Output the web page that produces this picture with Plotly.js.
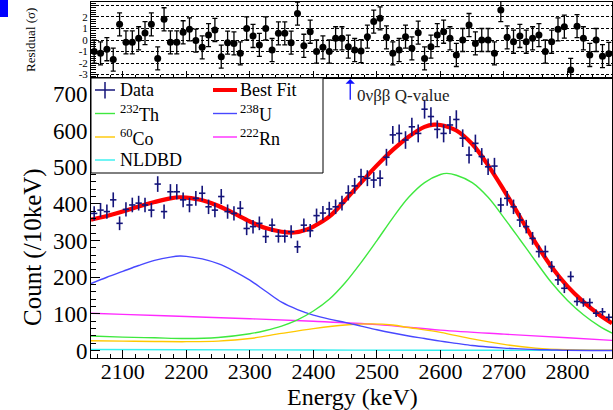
<!DOCTYPE html>
<html>
<head>
<meta charset="utf-8">
<script src="https://cdn.plot.ly/plotly-3.0.1.min.js"></script>
<style>html,body{margin:0;padding:0;background:#fff;}#chart{width:613px;height:410px;}</style>
</head>
<body>
<div id="chart"></div>
<script>
// ---- Data ----
const binCenters = [2055,2065,2075,2085,2095,2105,2115,2125,2135,2145,2155,2165,2175,2185,2195,2205,2215,2225,2235,2245,
  2255,2265,2275,2285,2295,2305,2315,2325,2335,2345,2355,2365,2375,2385,2395,2405,2415,2425,2435,2445,
  2455,2465,2475,2485,2495,2505,2515,2525,2535,2545,2555,2565,2575,2585,2595,2605,2615,2625,2635,2645,
  2655,2665,2675,2685,2695,2705,2715,2725,2735,2745,2755,2765,2775,2785,2795,2805,2815,2825,2835,2845,
  2855,2865];
const counts = [374,383,379,411,347,385,397,402,397,383,454,379,433,433,411,397,415,429,392,383,
  420,379,374,388,333,338,347,311,342,312,312,324,283,342,327,368,375,386,392,402,
  430,449,474,470,465,470,527,588,592,574,610,592,658,638,603,592,615,630,579,533,
  565,529,501,503,397,415,392,356,338,306,270,270,229,193,170,202,134,131,131,102,
  106,91];
const residuals = [-1.0,-1.16,-0.8,-1.7,1.36,-0.2,-0.2,0.15,0.6,1.36,-1.6,1.8,-0.2,-0.2,0.67,0.93,-0.05,-0.64,0.43,0.87,
  -1.45,-0.23,-0.3,-1.16,1.0,0.35,-0.43,1.0,-0.87,0.58,0.58,-0.23,2.3,-0.5,0.72,-1.0,-0.64,-1.0,0.15,0.15,
  -0.58,-0.87,-0.96,0.29,1.6,1.88,0.23,-1.16,-0.87,0.29,-0.72,0.64,-1.6,-0.58,0.43,0.72,0.15,-1.3,0,1.3,
  -0.3,0,0,-1.16,2.6,0.23,-0.15,0.35,-0.15,0.15,0.43,-1.0,-0.15,0.93,1.16,-2.6,1.2,0.15,-1.3,0,
  -1.4,-1.2];

const fitE   = [2050,2075,2100,2125,2150,2175,2190,2200,2225,2250,2275,2300,2325,2350,2370,2390,2400,2425,2450,2475,2500,2525,2550,2575,2590,2600,2625,2650,2675,2700,2725,2750,2775,2800,2825,2850,2870];
const fitVal = [357,367,379,393,405,415,418,417,410,395,374,352,334,324,322,330,338,365,410,458,505,547,583,610,616,615,600,563,505,437,365,293,228,175,133,98,75];

const thE   = [2050,2100,2150,2200,2250,2300,2325,2350,2375,2400,2425,2450,2475,2500,2525,2550,2575,2600,2610,2625,2650,2675,2700,2725,2750,2775,2800,2825,2850,2870];
const thVal = [40,37,35,33,36,46,55,67,84,108,140,185,240,300,362,418,458,480,483,478,458,418,362,303,243,185,137,98,67,48];

const uE   = [2050,2075,2100,2125,2150,2175,2190,2200,2225,2250,2275,2300,2325,2350,2375,2400,2425,2450,2475,2500,2525,2550,2575,2600,2625,2650,2675,2700,2725,2750,2775,2800,2870];
const uVal = [183,200,216,232,246,255,258,257,250,237,217,192,162,132,112,97,86,77,67,57,48,40,33,26,20,14,10,7,5,3,2,1,0.5];

const coE   = [2050,2100,2150,2200,2250,2300,2350,2400,2450,2490,2525,2550,2600,2650,2700,2750,2800,2870];
const coVal = [27,26,25,24.5,26,33,47,60,70,73,70,63,50,32,17,7,2.5,1];

const rnE   = [2050,2100,2200,2300,2400,2500,2600,2700,2800,2870];
const rnVal = [102,99,93,87,80,71,56,45,35,28];

const nlE   = [2050,2200,2400,2600,2870];
const nlVal = [3,2.5,1.8,1.2,0.8];

const qValue = 2458;
const xTicks = [2100,2200,2300,2400,2500,2600,2700,2800];
const resTicks = [-3,-2,-1,0,1,2,3];
const resTickText = ['-3','-2','-1','0','1','2','3'];

// ---- Plot ----
const FONT = 'Liberation Serif, Times New Roman, serif';
const C = {th:'#3fe83f', u:'#4848ff', co:'#ffc800', rn:'#ff2aff', nl:'#33f0f0', fit:'#ff0000', data:'#14147a'};

function comp(x, y, color, name){
  return {x:x, y:y, type:'scatter', mode:'lines', name:name, showlegend:false,
          line:{color:color, width:1.4, shape:'spline', smoothing:1}, xaxis:'x', yaxis:'y', hoverinfo:'skip'};
}
const traces = [
  comp(nlE, nlVal, C.nl, 'NLDBD'),
  comp(rnE, rnVal, C.rn, '222Rn'),
  comp(coE, coVal, C.co, '60Co'),
  comp(uE, uVal, C.u, '238U'),
  comp(thE, thVal, C.th, '232Th'),
  {x:fitE, y:fitVal, type:'scatter', mode:'lines', name:'Best Fit', showlegend:false,
   line:{color:C.fit, width:4.2, shape:'spline', smoothing:1}, xaxis:'x', yaxis:'y'},
  {x:binCenters, y:counts, type:'scatter', mode:'markers', name:'Data', showlegend:false,
   marker:{size:1, color:C.data},
   error_y:{type:'sqrt', color:C.data, thickness:1.6, width:0},
   error_x:{type:'constant', value:5, color:C.data, thickness:1.6, width:0},
   xaxis:'x', yaxis:'y'},
  {x:binCenters, y:residuals, type:'scatter', mode:'markers', name:'Residual', showlegend:false,
   marker:{size:7, color:'#000'},
   error_y:{type:'constant', value:1, color:'#000', thickness:1.3, width:2.5},
   xaxis:'x2', yaxis:'y2'}
];

const L = 91, T = 2, W = 521, H = 356;
const px = v => (v - L) / W;          // pixel -> paper x
const py = v => (T + H - v) / H;      // pixel -> paper y
const split = 0.7865;

const shapes = [
  {type:'rect', xref:'paper', yref:'paper', x0:px(91), x1:px(323), y0:py(173), y1:py(78),
   line:{color:'#000', width:1}, fillcolor:'#fff', layer:'above'},
  // legend symbols, left column
  {type:'line', xref:'paper', yref:'paper', x0:px(95), x1:px(115), y0:py(90), y1:py(90), line:{color:C.data, width:1.5}},
  {type:'line', xref:'paper', yref:'paper', x0:px(105), x1:px(105), y0:py(82), y1:py(98.5), line:{color:C.data, width:1.5}},
  {type:'line', xref:'paper', yref:'paper', x0:px(95), x1:px(115), y0:py(113.5), y1:py(113.5), line:{color:C.th, width:1.4}},
  {type:'line', xref:'paper', yref:'paper', x0:px(95), x1:px(115), y0:py(137), y1:py(137), line:{color:C.co, width:1.4}},
  {type:'line', xref:'paper', yref:'paper', x0:px(95), x1:px(115), y0:py(160), y1:py(160), line:{color:C.nl, width:1.4}},
  // right column
  {type:'line', xref:'paper', yref:'paper', x0:px(213), x1:px(237), y0:py(90), y1:py(90), line:{color:C.fit, width:4}},
  {type:'line', xref:'paper', yref:'paper', x0:px(213), x1:px(237), y0:py(113.5), y1:py(113.5), line:{color:C.u, width:1.4}},
  {type:'line', xref:'paper', yref:'paper', x0:px(213), x1:px(237), y0:py(137), y1:py(137), line:{color:C.rn, width:1.4}},
  // blue corner mark
  {type:'rect', xref:'paper', yref:'paper', x0:px(0), x1:px(8), y0:py(17), y1:py(0), line:{width:0}, fillcolor:'#0000ff'}
];

function lt(x, y, text, size){
  return {xref:'paper', yref:'paper', x:px(x), y:py(y), text:text, showarrow:false,
          xanchor:'left', yanchor:'middle', font:{family:FONT, size:size||18, color:'#000'}};
}
const annotations = [
  lt(118, 90, 'Data'), lt(118, 113.5, '<sup>232</sup>Th'), lt(118, 137, '<sup>60</sup>Co'), lt(118, 160, 'NLDBD'),
  lt(238, 90, 'Best Fit'), lt(238, 113.5, '<sup>238</sup>U'), lt(238, 137, '<sup>222</sup>Rn'),
  {xref:'x', yref:'y', x:qValue, y:740, ax:qValue, ay:680, axref:'x', ayref:'y', text:'', showarrow:true,
   arrowhead:1, arrowsize:1.2, arrowwidth:1.3, arrowcolor:'#1010ff'},
  {xref:'paper', yref:'paper', x:px(355), y:py(95), text:'0νββ Q-value', showarrow:false, xanchor:'left', yanchor:'middle',
   font:{family:FONT, size:17, color:'#222'}},
  {xref:'paper', yref:'paper', x:px(33), y:py(247), text:'Count (/10keV)', showarrow:false, textangle:-90,
   xanchor:'center', yanchor:'middle', font:{family:FONT, size:25, color:'#000'}},
  {xref:'paper', yref:'paper', x:px(30), y:py(40), text:'Residual (σ)', showarrow:false, textangle:-90,
   xanchor:'center', yanchor:'middle', font:{family:FONT, size:13, color:'#000'}},
  {xref:'paper', yref:'paper', x:px(352), y:py(397.5), text:'Energy (keV)', showarrow:false,
   xanchor:'center', yanchor:'middle', font:{family:FONT, size:24, color:'#000'}}
];

const axBase = {showline:true, linecolor:'#000', linewidth:1, mirror:true, zeroline:false, showgrid:false,
  ticks:'inside', tickcolor:'#000', tickwidth:1};

const layout = {
  width:613, height:410, margin:{l:L, r:1, t:T, b:52, pad:0},
  paper_bgcolor:'#fff', plot_bgcolor:'#fff', showlegend:false,
  font:{family:FONT, color:'#000'},
  xaxis: Object.assign({}, axBase, {anchor:'y', domain:[0,1], range:[2050,2870], tickvals:xTicks, ticklen:8,
    ticklabelstandoff:-6,
    minor:{dtick:20, tick0:2000, ticklen:4, ticks:'inside', tickcolor:'#000'},
    tickfont:{family:FONT, size:22, color:'#000'}}),
  xaxis2: Object.assign({}, axBase, {anchor:'y2', matches:'x', range:[2050,2870], tickvals:xTicks, ticklen:7,
    showticklabels:false, minor:{dtick:20, tick0:2000, ticklen:3, ticks:'inside', tickcolor:'#000'}}),
  yaxis: Object.assign({}, axBase, {anchor:'x', domain:[0,split], range:[-20,743], dtick:100, tick0:0, ticklen:9,
    ticklabelstandoff:-2,
    minor:{dtick:20, ticklen:5, ticks:'inside', tickcolor:'#000'},
    tickfont:{family:FONT, size:23, color:'#000'}}),
  yaxis2: Object.assign({}, axBase, {anchor:'x2', domain:[split,1], range:[-3.3,3.3], tickvals:resTicks, ticktext:resTickText,
    ticklen:8, showgrid:true, gridcolor:'#000', gridwidth:1, griddash:'3px,2px',
    minor:{dtick:0.2, ticklen:5, ticks:'inside', tickcolor:'#000', showgrid:false},
    tickfont:{family:FONT, size:11, color:'#000'}}),
  shapes:shapes, annotations:annotations
};

Plotly.newPlot('chart', traces, layout, {staticPlot:true, displayModeBar:false});
</script>
</body>
</html>
